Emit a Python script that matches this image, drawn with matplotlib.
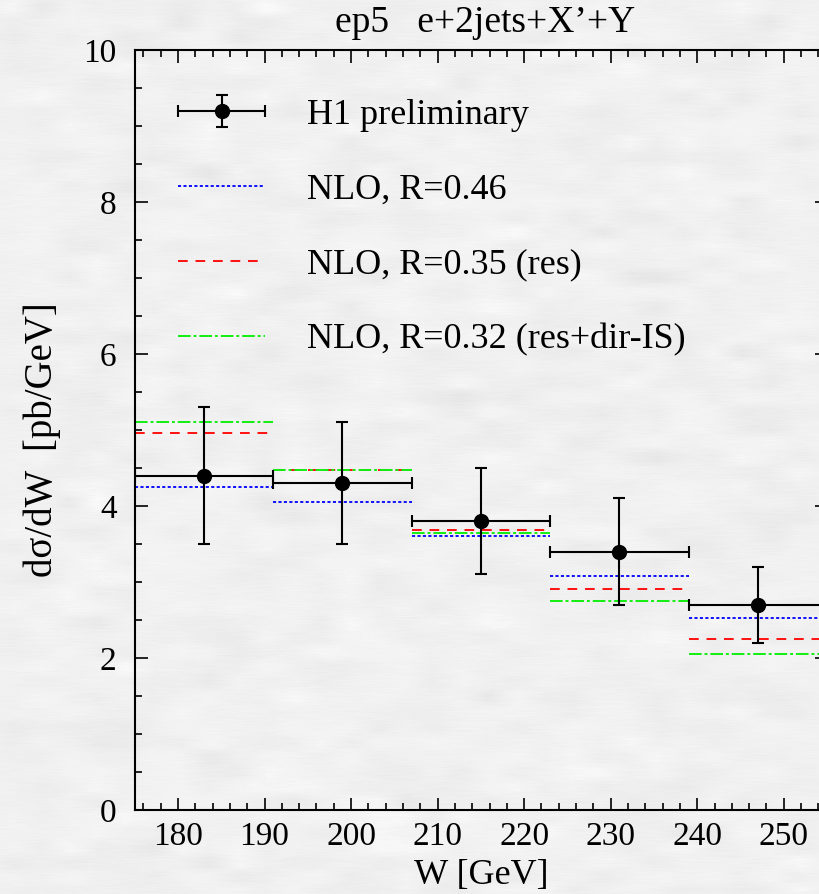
import numpy as np
import matplotlib
matplotlib.use("Agg")
from matplotlib import pyplot as plt
from matplotlib.ticker import MultipleLocator
from matplotlib.legend_handler import HandlerErrorbar

# W bins [GeV]
bin_edges = [175, 191, 207, 223, 239, 255]
w_centers = [183, 199, 215, 231, 247]

# H1 preliminary cross section [pb/GeV] with errors
h1_xsec = [4.4, 4.3, 3.8, 3.4, 2.7]
h1_err_up = [0.9, 0.8, 0.7, 0.7, 0.5]
h1_err_down = [0.9, 0.8, 0.7, 0.7, 0.5]

# NLO predictions per bin
nlo_r046 = [4.25, 4.05, 3.60, 3.08, 2.53]
nlo_r035 = [4.96, 4.47, 3.68, 2.91, 2.25]
nlo_r032 = [5.10, 4.48, 3.65, 2.75, 2.05]

labels = ['H1 preliminary', 'NLO, R=0.46', 'NLO, R=0.35 (res)', 'NLO, R=0.32 (res+dir-IS)']

plt.rcParams['font.family'] = ['Liberation Serif', 'DejaVu Serif']

fig = plt.figure(figsize=(8.19, 8.94), dpi=100, facecolor='#eeeeee')

# mottled paper background
rng = np.random.default_rng(3)
tex = rng.normal(size=(60, 30))
tex = np.kron(tex, np.ones((15, 28)))[:894, :819]
k = np.ones(9) / 9
tex = np.apply_along_axis(lambda r: np.convolve(r, k, mode='same'), 0, tex)
tex = np.apply_along_axis(lambda r: np.convolve(r, np.ones(31) / 31, mode='same'), 1, tex)
fine = rng.normal(size=(894, 819))
fine = np.apply_along_axis(lambda r: np.convolve(r, np.ones(15) / 15, mode='same'), 1, fine)
bg = 0.94 + 0.012 * tex + 0.014 * fine
fig.figimage(np.clip(bg, 0, 1), cmap='gray', vmin=0, vmax=1, zorder=-10)

ax = fig.add_axes([134.7 / 819, 84 / 894, (827 - 134.7) / 819, 760 / 894])
ax.set_facecolor('none')

lo, hi = bin_edges[:-1], bin_edges[1:]
blue = ax.hlines(nlo_r046, lo, hi, color='#1010ff', lw=1.4, linestyles=[(0, (1.6, 1.2))])
red = ax.hlines(nlo_r035, lo, hi, color='#ff1010', lw=1.4, linestyles=[(0, (5, 4))])
green = ax.hlines(nlo_r032, lo, hi, color='#10ee10', lw=1.4, linestyles=[(0, (6.5, 1.5, 1.5, 1.5))])

half = np.diff(bin_edges) / 2
data = ax.errorbar(w_centers, h1_xsec, yerr=[h1_err_down, h1_err_up], xerr=half,
                   fmt='o', color='black', ms=10, lw=1.5, capsize=4.5, capthick=1.5)

ax.set_xlim(175, 255)
ax.set_ylim(0, 10)
ax.xaxis.set_major_locator(MultipleLocator(10))
ax.xaxis.set_minor_locator(MultipleLocator(2))
ax.yaxis.set_major_locator(MultipleLocator(2))
ax.yaxis.set_minor_locator(MultipleLocator(0.5))
ax.tick_params(which='both', direction='in', top=True, right=True, labelsize=24, width=1.2)
ax.tick_params(which='major', length=9, pad=8)
ax.tick_params(axis='y', which='major', pad=13)
ax.tick_params(which='minor', length=5)
for s in ax.spines.values():
    s.set_linewidth(1.5)

ax.set_xlabel('W [GeV]', fontsize=26, labelpad=5)
ax.set_ylabel('dσ/dW  [pb/GeV]', fontsize=28)
ax.yaxis.set_label_coords(-0.106, 0.487)
fig.text(485 / 819, 1 - 23 / 894, "ep5   e+2jets+X’+Y", fontsize=27, ha='center', va='center')

ax.legend([data, blue, red, green], labels,
          loc='upper left', bbox_to_anchor=(0.0156, 0.979), frameon=False, fontsize=26,
          handlelength=2.41, handletextpad=1.16, labelspacing=1.15,
          handler_map={type(data): HandlerErrorbar(xerr_size=1.2, yerr_size=0.45)})

fig.savefig('out.png', dpi=100)
